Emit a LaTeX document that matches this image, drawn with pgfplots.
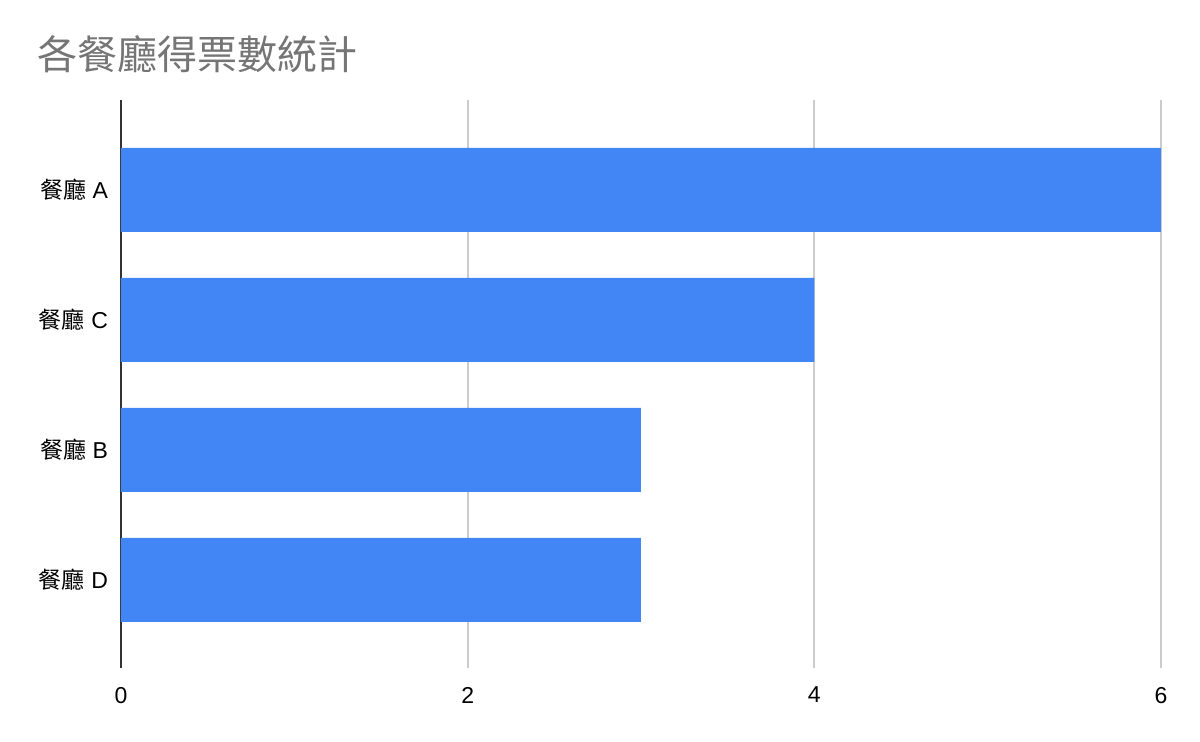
\documentclass[border=0pt]{standalone}
\usepackage{pgfplots}
\pgfplotsset{compat=1.18}
\usepackage{fontspec}
\setmainfont{Liberation Sans}
\newfontfamily\cjk{Noto Sans CJK TC}
\definecolor{barblue}{HTML}{4285F4}
\definecolor{titlegray}{HTML}{757575}
\definecolor{gridgray}{HTML}{CCCCCC}
\definecolor{axisdark}{HTML}{333333}
\begin{document}
\begin{tikzpicture}
  \useasboundingbox (0,0) rectangle (600pt,371pt);
  \node[anchor=west, inner sep=0pt, text=titlegray, font=\cjk\fontsize{20}{22}\selectfont]
    at (18.5pt,344pt) {各餐廳得票數統計};
  \begin{axis}[
      at={(60.5pt,37pt)}, anchor=south west,
      scale only axis,
      width=520pt, height=284pt,
      xbar, bar width=42pt,
      xmin=0, xmax=6,
      ymin=-0.692, ymax=3.677,
      y dir=reverse,
      xtick={0,2,4,6},
      ytick={0,1,2,3},
      yticklabels={{\cjk 餐廳} A,{\cjk 餐廳} C,{\cjk 餐廳} B,{\cjk 餐廳} D},
      axis x line*=bottom, axis y line*=left,
      x axis line style={draw=none},
      y axis line style={axisdark, line width=1pt},
      major tick length=0pt,
      xmajorgrids, major grid style={gridgray, line width=1pt},
      /pgf/number format/assume math mode=true,
      ticklabel style={font=\fontsize{11.5}{14}\selectfont, text=black},
      xticklabel style={yshift=-6pt},
      yticklabel style={xshift=-3pt},
    ]
    \addplot[fill=barblue, draw=none] coordinates {(6,0) (4,1) (3,2) (3,3)};
  \end{axis}
\end{tikzpicture}
\end{document}
